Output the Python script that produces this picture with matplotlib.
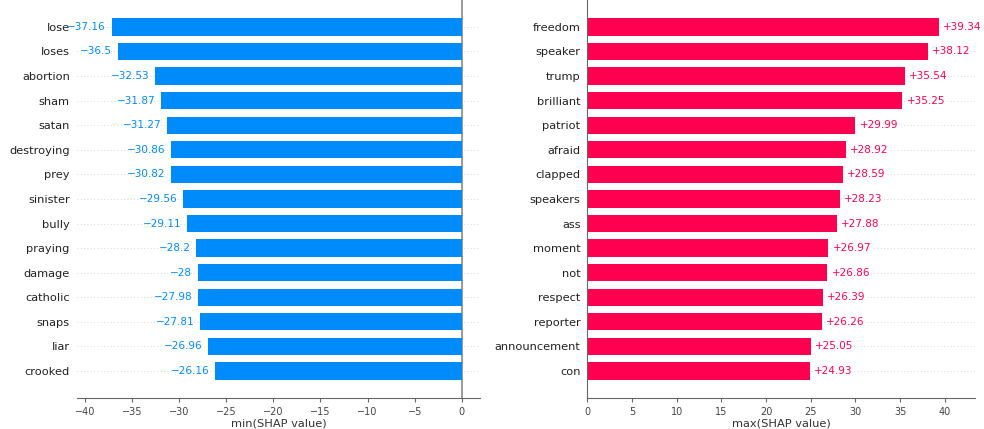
import numpy as np
import matplotlib
matplotlib.use("Agg")
import matplotlib.pyplot as plt

neg_words = ["lose", "loses", "abortion", "sham", "satan", "destroying", "prey",
             "sinister", "bully", "praying", "damage", "catholic", "snaps", "liar", "crooked"]
neg_vals = [-37.16, -36.5, -32.53, -31.87, -31.27, -30.86, -30.82,
            -29.56, -29.11, -28.2, -28, -27.98, -27.81, -26.96, -26.16]
neg_lbls = ["\u221237.16", "\u221236.5", "\u221232.53", "\u221231.87", "\u221231.27", "\u221230.86", "\u221230.82",
            "\u221229.56", "\u221229.11", "\u221228.2", "\u221228", "\u221227.98", "\u221227.81", "\u221226.96", "\u221226.16"]

pos_words = ["freedom", "speaker", "trump", "brilliant", "patriot", "afraid", "clapped",
             "speakers", "ass", "moment", "not", "respect", "reporter", "announcement", "con"]
pos_vals = [39.34, 38.12, 35.54, 35.25, 29.99, 28.92, 28.59,
            28.23, 27.88, 26.97, 26.86, 26.39, 26.26, 25.05, 24.93]

blue = "#008bfb"
red = "#ff0051"
axis_col = "#666666"
fs = 8.2
vfs = 7.5

fig = plt.figure(figsize=(9.84, 4.29), dpi=100)
ax1 = fig.add_axes([0.078, 0.0723, 0.41, 0.928])
ax2 = fig.add_axes([0.597, 0.0723, 0.394, 0.928])

n = len(neg_words)
y = np.arange(n)


def style(ax, words):
    for i in y:
        ax.axhline(i, color="#cccccc", lw=0.6, dashes=(1, 3), zorder=-1)
    ax.set_yticks(y)
    ax.set_yticklabels(words, fontsize=fs, color="#222222")
    ax.tick_params(axis="y", length=0, pad=5)
    ax.tick_params(axis="x", labelsize=7, colors="#444444", color=axis_col, length=3)
    ax.set_ylim(n - 1 + 1.1, -1.1)
    ax.spines["top"].set_visible(False)
    ax.spines["right"].set_visible(False)
    ax.spines["bottom"].set_color(axis_col)
    ax.spines["left"].set_color(axis_col)


# left panel: most negative
ax1.barh(y, neg_vals, height=0.7, color=blue, zorder=2)
style(ax1, neg_words)
ax1.spines["left"].set_visible(False)
ax1.axvline(0, color="#888888", lw=1.2, zorder=1)
ax1.set_xlim(-40.85, 1.95)
ax1.set_xticks([-40, -35, -30, -25, -20, -15, -10, -5, 0])
ax1.set_xticklabels(["\u221240", "\u221235", "\u221230", "\u221225", "\u221220",
                     "\u221215", "\u221210", "\u22125", "0"])
ax1.set_xlabel("min(SHAP value)", fontsize=fs, color="#333333", labelpad=1)
for i, (v, t) in enumerate(zip(neg_vals, neg_lbls)):
    ax1.annotate(t, (v, i), xytext=(-4, 0), textcoords="offset points",
                 ha="right", va="center", fontsize=vfs, color=blue)

# right panel: most positive
ax2.barh(y, pos_vals, height=0.7, color=red, zorder=2)
style(ax2, pos_words)
ax2.set_xlim(0, 43.4)
ax2.set_xticks([0, 5, 10, 15, 20, 25, 30, 35, 40])
ax2.set_xlabel("max(SHAP value)", fontsize=fs, color="#333333", labelpad=1)
for i, v in enumerate(pos_vals):
    ax2.annotate("+" + format(v, "g"), (v, i), xytext=(3, 0), textcoords="offset points",
                 ha="left", va="center", fontsize=vfs, color=red,
                 bbox=dict(facecolor="white", edgecolor="none", pad=0.5))

fig.savefig("out.png", dpi=100)
